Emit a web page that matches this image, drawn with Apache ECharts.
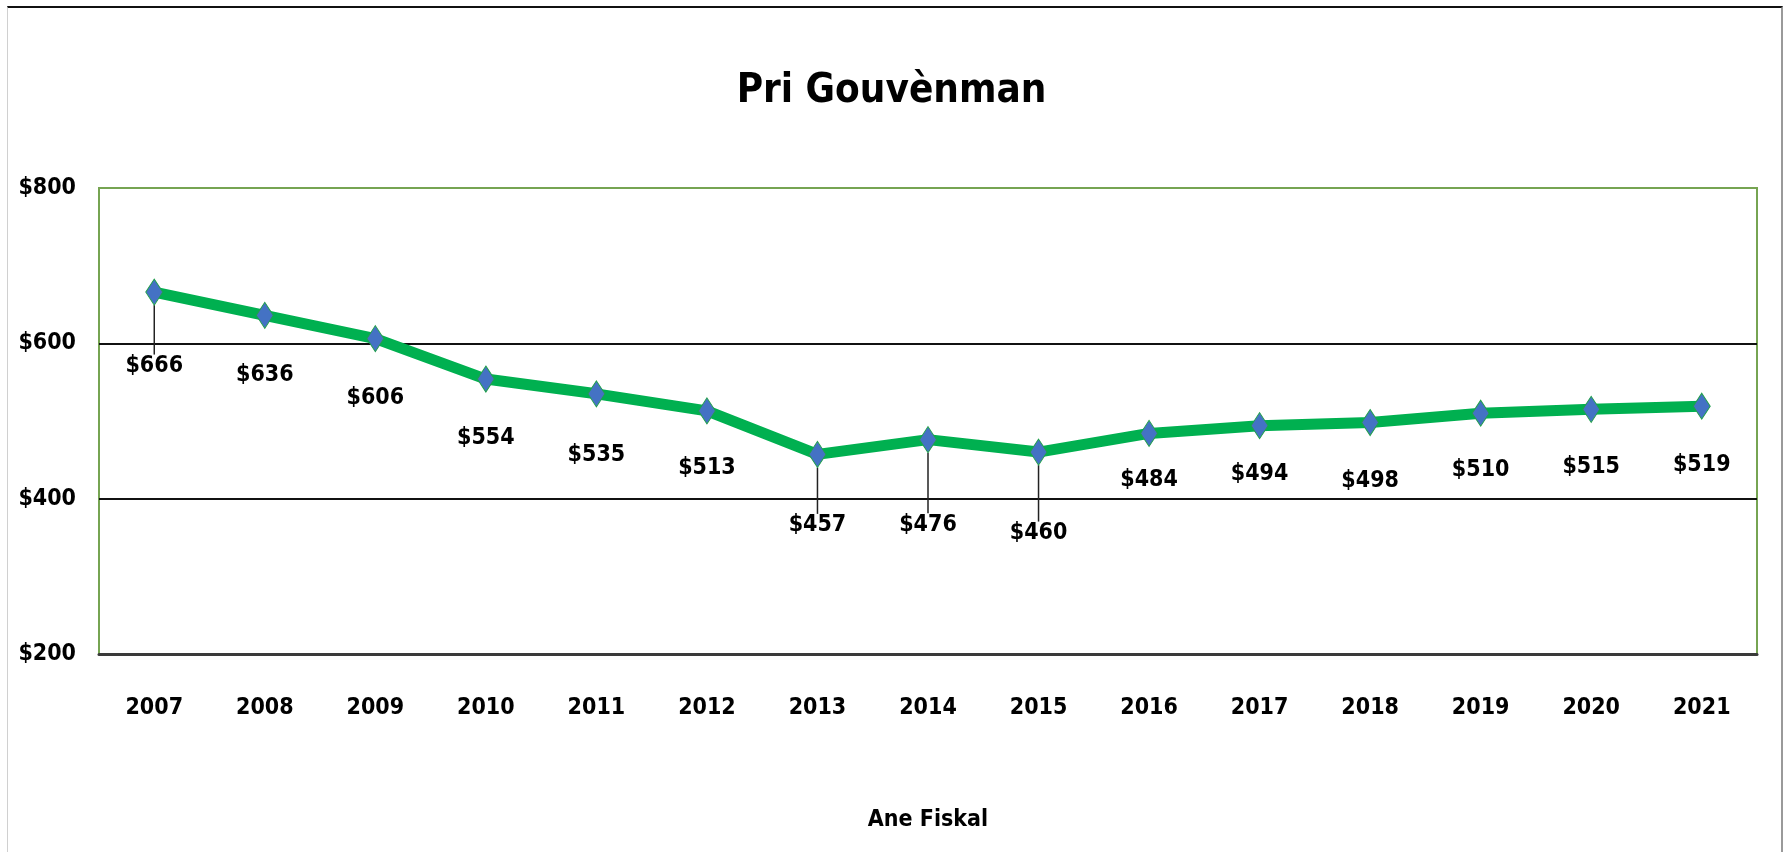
<!DOCTYPE html>
<html>
<head>
<meta charset="utf-8">
<title>Pri Gouvènman</title>
<script src="https://cdn.jsdelivr.net/npm/echarts@6/dist/echarts.min.js"></script>
<style>
  html, body { margin: 0; padding: 0; background: #fff; }
  #wrap { position: relative; width: 1783px; height: 852px; overflow: hidden; }
  #chart { width: 1783px; height: 852px; }
  /* sheet frame around the chart object */
  #frame {
    position: absolute; left: 7px; top: 6px; width: 1773px; height: 900px;
    border-top: 2px solid #111; border-left: 1px solid #d0d0d0; border-right: 2px solid #9a9a9a;
    pointer-events: none;
  }
</style>
</head>
<body>
<div id="wrap">
  <div id="chart"></div>
  <div id="frame"></div>
</div>
<script>
// data
const years = ["2007", "2008", "2009", "2010", "2011", "2012", "2013", "2014", "2015",
  "2016", "2017", "2018", "2019", "2020", "2021"];
const prices = [666, 636, 606, 554, 535, 513, 457, 476, 460, 484, 494, 498, 510, 515, 519];
const yTicks = [200, 400, 600, 800];

// the labels were nudged by hand in the original, keep their drop per point
const labelDrop = [74, 60, 59, 59, 61, 57, 71, 85, 81, 47, 48, 58, 57, 58, 59];
const withLeader = [0, 6, 7, 8];

const font = "'Liberation Sans Narrow', 'DejaVu Sans Condensed', sans-serif";

const chart = echarts.init(document.getElementById("chart"));

const option = {
  backgroundColor: "#fff",
  animation: false,
  title: {
    text: "Pri Gouvènman",
    left: "center",
    top: 67,
    textStyle: { fontFamily: font, fontSize: 40, fontWeight: "bold", color: "#000" },
  },
  grid: {
    left: 99, right: 26, top: 188, bottom: 198,
    show: true, borderColor: "#76a452", borderWidth: 2, backgroundColor: "#fff",
  },
  xAxis: {
    type: "category",
    data: years,
    boundaryGap: true,
    name: "Ane Fiskal",
    nameLocation: "middle",
    nameGap: 155,
    nameTextStyle: { fontFamily: font, fontSize: 23, fontWeight: "bold", color: "#000" },
    axisLine: { show: true, lineStyle: { color: "#3a3a3a", width: 3 } },
    axisTick: { show: false },
    axisLabel: { margin: 43, fontFamily: font, fontSize: 23, fontWeight: "bold", color: "#000" },
  },
  yAxis: {
    type: "value",
    min: yTicks[0],
    max: yTicks[yTicks.length - 1],
    interval: 200,
    axisLine: { show: false },
    axisTick: { show: false },
    axisLabel: {
      margin: 23, fontFamily: font, fontSize: 23, fontWeight: "bold", color: "#000",
      formatter: (v) => "$" + v,
    },
    splitLine: { show: true, lineStyle: { color: ["transparent", "#111", "#111", "transparent"], width: 2 } },
  },
  series: [
    {
      type: "line",
      data: prices.map((v, i) => ({
        value: v,
        labelLine: { show: withLeader.includes(i) },
      })),
      lineStyle: { color: "#00b050", width: 11 },
      itemStyle: { color: "#4472c4", borderColor: "#21a04a", borderWidth: 1 },
      symbol: "diamond",
      symbolSize: [17, 26],
      showSymbol: true,
      z: 3,
      label: {
        show: true,
        position: "inside",
        formatter: (p) => "$" + p.value,
        fontFamily: font, fontSize: 23, fontWeight: "bold", color: "#000",
      },
      labelLine: { show: false, length2: 0, lineStyle: { color: "#222", width: 1.5 } },
      labelLayout: (p) => ({ dy: labelDrop[p.dataIndex] }),
    },
  ],
};

chart.setOption(option);
</script>
</body>
</html>
